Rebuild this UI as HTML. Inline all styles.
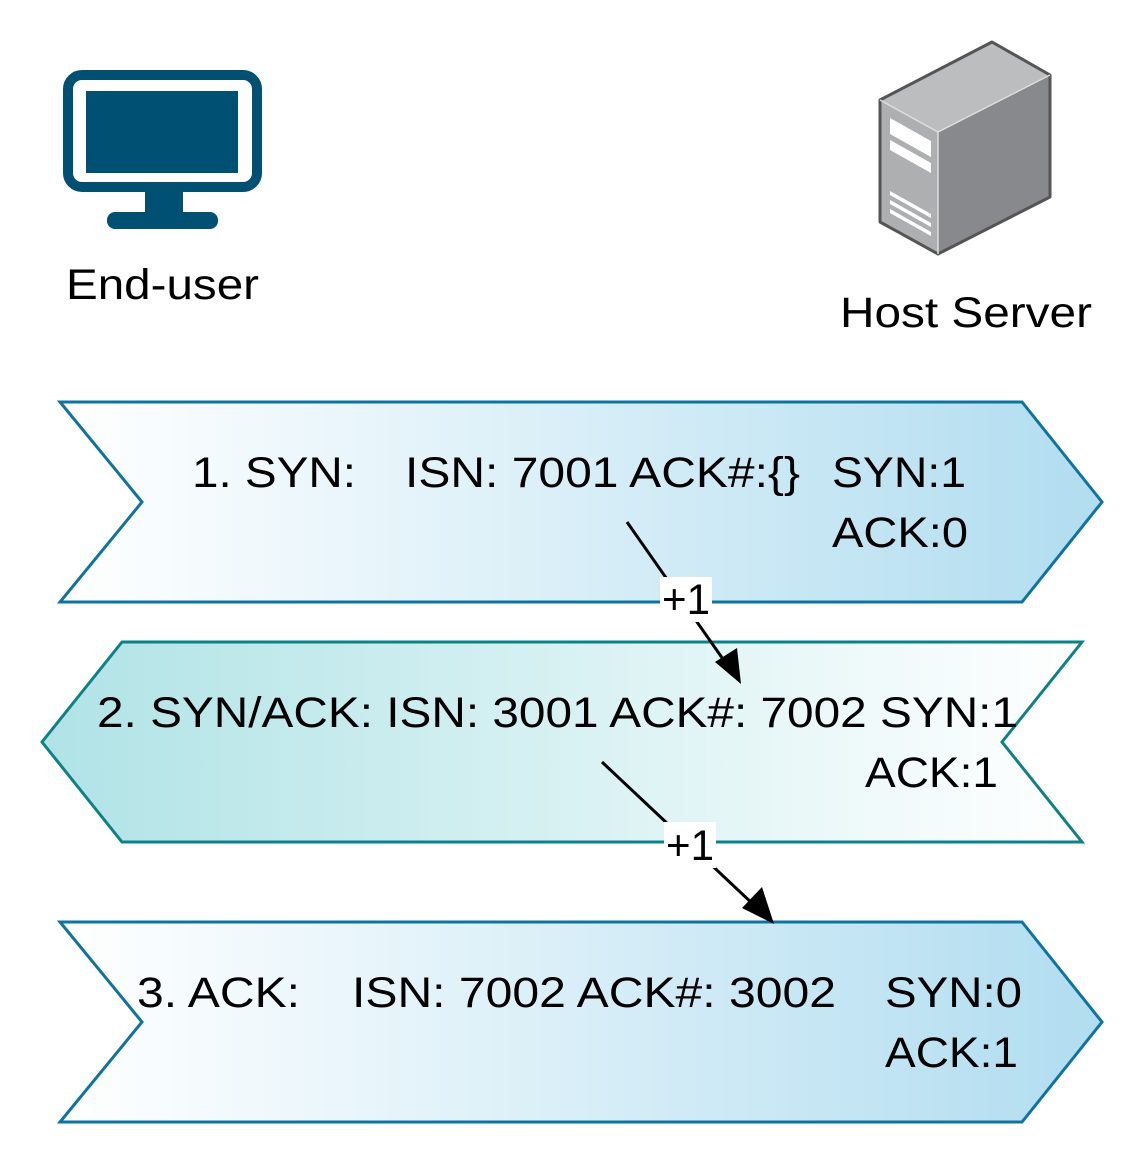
<!DOCTYPE html>
<html><head><meta charset="utf-8"><style>html,body{margin:0;padding:0;background:#fff}svg{display:block}text{font-family:"Liberation Sans",Arial,sans-serif;font-size:43px;fill:#000}</style></head>
<body>
<svg width="1144" height="1164" viewBox="0 0 1144 1164" xmlns="http://www.w3.org/2000/svg">
<defs>
<linearGradient id="g1" x1="0" x2="1" y1="0" y2="0"><stop offset="0" stop-color="#ffffff"/><stop offset="1" stop-color="#b1ddf0"/></linearGradient>
<linearGradient id="g2" x1="0" x2="1" y1="0" y2="0"><stop offset="0" stop-color="#b0e3e6"/><stop offset="1" stop-color="#ffffff"/></linearGradient>
</defs>
<rect x="68" y="75" width="189" height="112" rx="14" fill="none" stroke="#005073" stroke-width="10"/>
<rect x="86" y="91" width="152" height="82" fill="#005073"/>
<rect x="145" y="190" width="38" height="24" fill="#005073"/>
<rect x="107" y="212" width="111" height="17" rx="8" fill="#005073"/>
<polygon points="880,100 992,42 1050,75 938,132" fill="#bcbdbf"/>
<polygon points="938,132 1050,75 1050,197 938,254" fill="#88898c"/>
<polygon points="880,100 938,132 938,254 880,222" fill="#aeafb1"/>
<polygon points="880,100 992,42 1050,75 1050,197 938,254 880,222" fill="none" stroke="#555" stroke-width="3" stroke-linejoin="round"/>
<polyline points="880,100 938,132 1050,75" fill="none" stroke="#ddd" stroke-width="1.5"/>
<line x1="938" y1="132" x2="938" y2="254" stroke="#ddd" stroke-width="1.5"/>
<g fill="#fff">
<polygon points="890,118 931,141 931,157 890,134"/>
<polygon points="890,140 931,163 931,173 890,150"/>
<polygon points="890,191 931,214 931,218 890,195"/>
<polygon points="890,200 931,223 931,227 890,204"/>
<polygon points="890,209 931,232 931,236 890,213"/>
</g>
<g lengthAdjust="spacingAndGlyphs">
<text x="66" y="299" textLength="193" lengthAdjust="spacingAndGlyphs">End-user</text>
<text x="840" y="327" textLength="252" lengthAdjust="spacingAndGlyphs">Host Server</text>
</g>
<polygon points="60,402 1022,402 1102,502 1022,602 60,602 142,502" fill="url(#g1)" stroke="#10739e" stroke-width="3"/>
<polygon points="122,642 1082,642 1002,742 1082,842 122,842 42,742" fill="url(#g2)" stroke="#0e8088" stroke-width="3"/>
<polygon points="60,922 1022,922 1102,1022 1022,1122 60,1122 142,1022" fill="url(#g1)" stroke="#10739e" stroke-width="3"/>
<text x="192" y="487" textLength="164" lengthAdjust="spacingAndGlyphs">1. SYN:</text>
<text x="405" y="487" textLength="395" lengthAdjust="spacingAndGlyphs">ISN: 7001 ACK#:{}</text>
<text x="832" y="487" textLength="134" lengthAdjust="spacingAndGlyphs">SYN:1</text>
<text x="832" y="547" textLength="136" lengthAdjust="spacingAndGlyphs">ACK:0</text>
<text x="97" y="727" textLength="921" lengthAdjust="spacingAndGlyphs">2. SYN/ACK: ISN: 3001 ACK#: 7002 SYN:1</text>
<text x="865" y="787" textLength="133" lengthAdjust="spacingAndGlyphs">ACK:1</text>
<text x="137" y="1007" textLength="163" lengthAdjust="spacingAndGlyphs">3. ACK:</text>
<text x="352" y="1007" textLength="484" lengthAdjust="spacingAndGlyphs">ISN: 7002 ACK#: 3002</text>
<text x="885" y="1007" textLength="137" lengthAdjust="spacingAndGlyphs">SYN:0</text>
<text x="885" y="1067" textLength="133" lengthAdjust="spacingAndGlyphs">ACK:1</text>
<line x1="627" y1="522" x2="725" y2="662" stroke="#000" stroke-width="3"/>
<polygon points="741,684 715,662 737,648" fill="#000"/>
<line x1="602" y1="762" x2="755" y2="906" stroke="#000" stroke-width="3"/>
<polygon points="774,924 742,908 762,887" fill="#000"/>
<rect x="660" y="577" width="52" height="45" fill="#fff"/>
<text x="662" y="614" textLength="48" lengthAdjust="spacingAndGlyphs">+1</text>
<rect x="664" y="822" width="52" height="46" fill="#fff"/>
<text x="666" y="860" textLength="48" lengthAdjust="spacingAndGlyphs">+1</text>
</svg>
</body></html>
